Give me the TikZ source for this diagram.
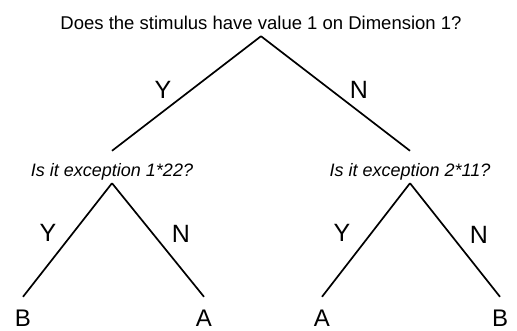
\documentclass[tikz,border=0pt]{standalone}
\usepackage{fontspec}
\setmainfont{Liberation Sans}
\usetikzlibrary{positioning}

\begin{document}
\begin{tikzpicture}[x=1pt, y=-1pt,
      quest/.style={anchor=base, inner xsep=0pt, inner ysep=7pt, text height=18pt, text depth=0pt, font=\fontsize{18.5}{20}\selectfont},
      subquest/.style={quest, font=\fontsize{18}{20}\selectfont\itshape},
      leaf/.style={anchor=base, inner sep=0pt, text height=29pt, text depth=0pt, font=\fontsize{24}{28}\selectfont},
      yn/.style={inner sep=0pt, font=\fontsize{25}{28}\selectfont},
      branch/.style={line width=1.7pt, black}
  ]
    \useasboundingbox (0,0) rectangle (517,330);

    % Questions
    \node[quest] (q1) at (261, 29) {Does the stimulus have value 1 on Dimension 1?};
    \node[subquest] (q2) at (112, 176) {Is it exception 1*22?};
    \node[subquest] (q3) at (410, 176) {Is it exception 2*11?};

    % Leaves
    \node[leaf] (l1) at (23, 326) {B};
    \node[leaf] (l2) at (204, 326) {A};
    \node[leaf] (l3) at (322, 326) {A};
    \node[leaf] (l4) at (500, 326) {B};

    % Branches
    \draw[branch] (q1.south) -- (q2.north);
    \draw[branch] (q1.south) -- (q3.north);
    \draw[branch] (q2.south) -- (l1.north);
    \draw[branch] (q2.south) -- (l2.north);
    \draw[branch] (q3.south) -- (l3.north);
    \draw[branch] (q3.south) -- (l4.north);

    % Labels
    \node[yn] (y1) at (163, 90) {Y};
    \node[yn] (n1) at (359, 90) {N};
    \node[yn] (y2) at (48, 233) {Y};
    \node[yn] (n2) at (181, 234) {N};
    \node[yn] (y3) at (342, 233) {Y};
    \node[yn] (n3) at (479, 235) {N};
  \end{tikzpicture}
\end{document}
